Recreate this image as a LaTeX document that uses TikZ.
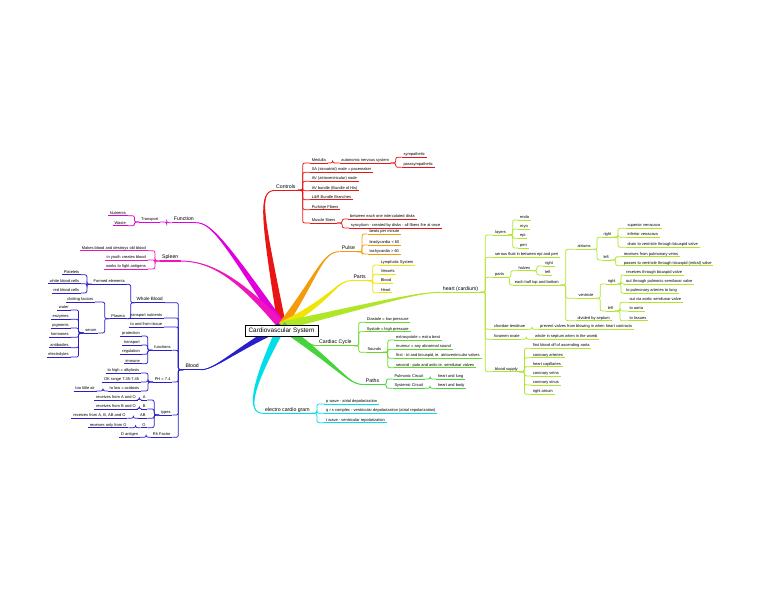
\documentclass[tikz,border=0pt]{standalone}
\usepackage{fontspec}
\setmainfont{Liberation Sans}
\usetikzlibrary{calc}
\definecolor{cR}{RGB}{235,20,20}
\definecolor{cF}{RGB}{225,0,220}
\definecolor{cS}{RGB}{240,20,190}
\definecolor{cB}{RGB}{40,30,205}
\definecolor{cO}{RGB}{245,155,10}
\definecolor{cY}{RGB}{240,228,0}
\definecolor{cH}{RGB}{175,230,40}
\definecolor{cG}{RGB}{100,218,40}
\definecolor{cP}{RGB}{70,212,60}
\definecolor{cC}{RGB}{0,222,232}
\tikzset{
  sm/.style={font=\fontsize{4}{4.6}\selectfont, inner xsep=1.6pt, inner ysep=0.6pt, text height=2.9pt, text depth=0.85pt},
  lg/.style={font=\fontsize{5.2}{6}\selectfont, inner xsep=2pt, inner ysep=0.8pt, text height=3.8pt, text depth=1.1pt},
  ul/.style={append after command={(\tikzlastnode.south west) edge[draw=#1, line width=0.75pt] (\tikzlastnode.south east)}},
  ulx/.style={append after command={(\tikzlastnode.south west) edge[draw=#1, line width=1.3pt] (\tikzlastnode.south east)}},
  rs/.style={sm, ul=#1, anchor=south west},
  ls/.style={sm, ul=#1, anchor=south east},
  rl/.style={lg, ulx=#1, anchor=south west},
  ll/.style={lg, ulx=#1, anchor=south east},
  cn/.style={line width=0.75pt, rounded corners=2pt,
    to path={let \p1=(\tikztostart), \p2=(\tikztotarget),
      \n1={\x1+min(0.5*abs(\x2-\x1),5pt)*sign(\x2-\x1)} in
      -- (\n1,\y1) |- (\tikztotarget)}},
}
\newcommand\mmspoke[6]{%
  \fill[#1] ($(O)+({4.2*#5},{4.2*#6})$) .. controls ($#2+({1.5*#5},{1.5*#6})$) and ($#3+({0.4*#5},{0.4*#6})$) .. #4
     .. controls ($#3-({0.4*#5},{0.4*#6})$) and ($#2-({1.5*#5},{1.5*#6})$) .. ($(O)-({4.2*#5},{4.2*#6})$) -- cycle;
  \draw[#1, line width=0.9pt] (O) .. controls #2 and #3 .. #4;
}
\begin{document}
\begin{tikzpicture}[x=1pt,y=-1pt]
\useasboundingbox[fill=white] (0,0) rectangle (768,594);

% ---------- Controls (red)
\node[rl=cR] (ctrl) at (274,190.3) {Controls};
\node[rs=cR] (med) at (310,163) {Medulla};
\node[rs=cR] (ans) at (339.5,163) {autonomic nervous system};
\node[rs=cR] (sym) at (401.7,157.3) {sympathetic};
\node[rs=cR] (para) at (401.7,167.3) {parasympathetic};
\node[rs=cR] (sa) at (310,172.3) {SA (sinoatrial) node = pacemaker};
\node[rs=cR] (av) at (310,181.3) {AV (atrioventricular) node};
\node[rs=cR] (avb) at (310,190.7) {AV bundle (Bundle of His)};
\node[rs=cR] (lr) at (310,199.7) {L\&R Bundle Branches};
\node[rs=cR] (purk) at (310,209.7) {Purkinje Fibers};
\node[rs=cR] (musc) at (310,223) {Muscle fibers};
\node[rs=cR] (betw) at (348.4,219) {between each one intercalated disks};
\node[rs=cR] (sync) at (349,228) {syncytium - created by disks - all fibers fire at once};

% ---------- Function (magenta)
\node[ll=cF] (func) at (196,222.7) {Function};
\node[ls=cF] (trans) at (160,222) {Transport};
\node[ls=cF] (nutr) at (127.6,215.7) {Nutrients};
\node[ls=cF] (waste) at (127.6,225.7) {Waste};

% ---------- Spleen
\node[ll=cS] (spl) at (180.5,261) {Spleen};
\node[ls=cS] (makes) at (147.6,250.7) {Makes blood and destroys old blood};
\node[ls=cS] (youth) at (147.6,260) {in youth creates blood};
\node[ls=cS] (works) at (147.6,269) {works to fight antigens};

% ---------- Blood (blue)
\node[ll=cB] (blood) at (201,369.7) {Blood};
\node[ls=cB, font=\fontsize{4.6}{5.2}\selectfont, text height=3.4pt, text depth=1pt] (wb) at (164.5,302.7) {Whole Blood};
\node[ls=cB] (tn) at (164,318) {transport nutrients};
\node[ls=cB] (tft) at (164,327) {to and from tissue};
\node[ls=cB] (fun) at (172.3,350.3) {functions};
\node[ls=cB] (ph) at (172.3,382) {PH = 7.4};
\node[ls=cB] (types) at (172.3,415) {types};
\node[ls=cB] (rh) at (172.3,437.3) {Rh Factor};
\node[ls=cB] (fe) at (126.6,284.3) {Formed elements};
\node[ls=cB] (plt) at (81,274.7) {Platelets};
\node[ls=cB] (wbc) at (81,283.7) {white blood cells};
\node[ls=cB] (rbc) at (81,293) {red blood cells};
\node[ls=cB] (plasma) at (126.6,318.7) {Plasma};
\node[ls=cB] (clot) at (95,302) {clotting factors};
\node[ls=cB] (serum) at (98.3,333) {serum};
\node[ls=cB] (water) at (70.5,310) {water};
\node[ls=cB] (enz) at (70.5,319.3) {enzymes};
\node[ls=cB] (pig) at (70.5,328) {pigments};
\node[ls=cB] (horm) at (70.5,337.3) {hormones};
\node[ls=cB] (anti) at (70.5,347.7) {antibodies};
\node[ls=cB] (elec) at (70.5,357) {electrolytes};
\node[ls=cB] (prot) at (141.6,336) {protection};
\node[ls=cB] (ftr) at (141.6,345) {transport};
\node[ls=cB] (reg) at (141.6,354.3) {regulation};
\node[ls=cB] (imm) at (141.6,363.7) {immune};
\node[ls=cB] (hi) at (141,373) {to high = alkylosis};
\node[ls=cB] (ok) at (141,382) {OK range 7.35-7.45};
\node[ls=cB] (lo) at (141,391) {to low = acidosis};
\node[ls=cB] (air) at (96.6,391) {too little air};
\node[ls=cB] (tA) at (147.3,400) {A};
\node[ls=cB] (tB) at (147.3,409) {B};
\node[ls=cB] (tAB) at (147.3,418.3) {AB};
\node[ls=cB] (tO) at (147.3,427.7) {O};
\node[ls=cB] (rA) at (137.6,400) {receives from A and O};
\node[ls=cB] (rB) at (137.6,409) {receives from B and O};
\node[ls=cB] (rAB) at (127.3,418.3) {receives from A, B, AB and O};
\node[ls=cB] (rO) at (128.3,427.7) {receives only from O};
\node[ls=cB] (dag) at (140,437.3) {D antigen};

% ---------- Pulse (orange)
\node[rl=cO] (pulse) at (339.7,251.7) {Pulse};
\node[rs=cO] (bpm) at (367.7,234) {beats per minute};
\node[rs=cO] (brady) at (367.7,245) {bradycardia < 60};
\node[rs=cO] (tachy) at (367.7,254) {tachycardia > 60};

% ---------- Parts (yellow)
\node[rl=cY] (parts) at (351.3,280.7) {Parts};
\node[rs=cY] (lymph) at (379,265) {Lymphatic System};
\node[rs=cY] (vess) at (379,274.3) {Vessels};
\node[rs=cY] (pblood) at (379,283.3) {Blood};
\node[rs=cY] (pheart) at (379,292.7) {Heart};

% ---------- heart (yellow-green)
\node[rl=cH] (heart) at (440.7,292.3) {heart (cardium)};
\node[rs=cH] (layers) at (493.4,235) {layers};
\node[rs=cH] (endo) at (518.4,220) {endo};
\node[rs=cH] (myo) at (518.4,229) {myo};
\node[rs=cH] (epi) at (518.4,238.3) {epi};
\node[rs=cH] (peri) at (518.4,248) {peri};
\node[rs=cH] (serous) at (493.4,257.3) {serous fluid in between epi and peri};
\node[rs=cH] (hparts) at (493.4,277.3) {parts};
\node[rs=cH] (halves) at (516.7,270.7) {halves};
\node[rs=cH] (hright) at (543.4,266) {right};
\node[rs=cH] (hleft) at (543.4,275) {left};
\node[rs=cH] (each) at (513,285) {each half top and bottom};
\node[rs=cH] (atr) at (575.7,249.3) {atriums};
\node[rs=cH] (aright) at (601.7,237.3) {right};
\node[rs=cH] (svc) at (625.7,228.3) {superior venacava};
\node[rs=cH] (ivc) at (625.7,237.3) {inferior venacava};
\node[rs=cH] (drain) at (625.7,247.3) {drain to ventricle through bicuspid valve};
\node[rs=cH] (aleft) at (601.7,260) {left};
\node[rs=cH] (rpv) at (622,256.7) {receives from pulmonary veins};
\node[rs=cH] (pass) at (622,265.7) {passes to ventricle through tricuspid (mitral) valve};
\node[rs=cH] (vent) at (576.7,298.3) {ventricle};
\node[rs=cH] (vright) at (606,284) {right};
\node[rs=cH] (rtb) at (624.4,275) {receives through bicuspid valve};
\node[rs=cH] (otp) at (624.4,284) {out through pulmonic semilunar valve};
\node[rs=cH] (tpa) at (624.4,293.3) {to pulmonary arteries to lung};
\node[rs=cH] (vleft) at (606,311) {left};
\node[rs=cH] (ova) at (627.7,302.3) {out via aortic semilunar valve};
\node[rs=cH] (toa) at (627.7,311) {to aorta};
\node[rs=cH] (tot) at (627.7,320.7) {to tissues};
\node[rs=cH] (div) at (575.7,320.7) {divided by septum};
\node[rs=cH] (chord) at (492.4,329.3) {chordae tendinae};
\node[rs=cH] (prev) at (538.4,329.3) {prevent valves from blowing in when heart contracts};
\node[rs=cH] (foram) at (492.4,339.3) {foramen ovale};
\node[rs=cH] (whole) at (533.4,339.3) {whole in septum when in the womb};
\node[rs=cH] (bs) at (493.4,371.7) {blood supply};
\node[rs=cH] (first) at (531,348.3) {first blood off of ascending aorta};
\node[rs=cH] (ca) at (531,357.7) {coronary arteries};
\node[rs=cH] (hc) at (531,366.7) {heart capillaries};
\node[rs=cH] (cv) at (531,376) {coronary veins};
\node[rs=cH] (cs) at (531,385) {coronary sinus};
\node[rs=cH] (ra) at (531,394.3) {right atrium};

% ---------- Cardiac Cycle (green)
\node[rl=cG] (cc) at (317,345.7) {Cardiac Cycle};
\node[rs=cG] (dia) at (365,322.3) {Diastole = low pressure};
\node[rs=cG] (sys) at (365,331.7) {Systole = high pressure};
\node[rs=cG] (snd) at (365.7,352.3) {Sounds};
\node[rs=cG] (extra) at (394.4,340) {extrasystole = extra beat};
\node[rs=cG] (murm) at (394.4,349.3) {murmur = any abnormal sound};
\node[rs=cG] (fst) at (394.4,358.3) {first - tri and bicuspid, ie. atrioventricular valves};
\node[rs=cG] (sec) at (394.4,367.7) {second - pulo and aotic ie. semilunar valves};

% ---------- Paths (green)
\node[rl=cP] (paths) at (363.7,384.5) {Paths};
\node[rs=cP] (pc) at (392.7,379) {Pulmonic Circuit};
\node[rs=cP] (hl) at (436,379) {heart and lung};
\node[rs=cP] (sc) at (392.7,388.3) {Systemic Circuit};
\node[rs=cP] (hb) at (436,388.3) {heart and body};

% ---------- electro cardio gram (cyan)
\node[rl=cC] (ecg) at (263,413.3) {electro cardio gram};
\node[rs=cC] (pw) at (324.4,404) {p wave - atrial depolarization};
\node[rs=cC] (qrs) at (324.4,413.3) {q r s complex - ventricular depolarization (atrial repolarization)};
\node[rs=cC] (tw) at (324.4,422.7) {t wave - ventricular repolarization};

% ---------- connectors
\foreach \k in {med,sa,av,avb,lr,purk,musc} \draw[cR,cn] (ctrl.south east) to (\k.south west);
\draw[cR,cn] (med.south east) to (ans.south west);
\foreach \k in {sym,para} \draw[cR,cn] (ans.south east) to (\k.south west);
\foreach \k in {betw,sync} \draw[cR,cn] (musc.south east) to (\k.south west);

\draw[cF,cn] (func.south west) to (trans.south east);
\foreach \k in {nutr,waste} \draw[cF,cn] (trans.south west) to (\k.south east);
\foreach \k in {makes,youth,works} \draw[cS,cn] (spl.south west) to (\k.south east);

\foreach \k in {wb,tn,tft,fun,ph,types,rh} \draw[cB,cn] (blood.south west) to (\k.south east);
\foreach \k in {fe,plasma} \draw[cB,cn] (wb.south west) to (\k.south east);
\foreach \k in {plt,wbc,rbc} \draw[cB,cn] (fe.south west) to (\k.south east);
\foreach \k in {clot,serum} \draw[cB,cn] (plasma.south west) to (\k.south east);
\foreach \k in {water,enz,pig,horm,anti,elec} \draw[cB,cn] (serum.south west) to (\k.south east);
\foreach \k in {prot,ftr,reg,imm} \draw[cB,cn] (fun.south west) to (\k.south east);
\foreach \k in {hi,ok,lo} \draw[cB,cn] (ph.south west) to (\k.south east);
\draw[cB,cn] (lo.south west) to (air.south east);
\foreach \k in {tA,tB,tAB,tO} \draw[cB,cn] (types.south west) to (\k.south east);
\draw[cB,cn] (tA.south west) to (rA.south east);
\draw[cB,cn] (tB.south west) to (rB.south east);
\draw[cB,cn] (tAB.south west) to (rAB.south east);
\draw[cB,cn] (tO.south west) to (rO.south east);
\draw[cB,cn] (rh.south west) to (dag.south east);

\foreach \k in {bpm,brady,tachy} \draw[cO,cn] (pulse.south east) to (\k.south west);
\foreach \k in {lymph,vess,pblood,pheart} \draw[cY,cn] (parts.south east) to (\k.south west);

\foreach \k in {layers,serous,hparts,chord,foram,bs} \draw[cH,cn] (heart.south east) to (\k.south west);
\foreach \k in {endo,myo,epi,peri} \draw[cH,cn] (layers.south east) to (\k.south west);
\foreach \k in {halves,each} \draw[cH,cn] (hparts.south east) to (\k.south west);
\foreach \k in {hright,hleft} \draw[cH,cn] (halves.south east) to (\k.south west);
\foreach \k in {atr,vent,div} \draw[cH,cn] (each.south east) to (\k.south west);
\foreach \k in {aright,aleft} \draw[cH,cn] (atr.south east) to (\k.south west);
\foreach \k in {svc,ivc,drain} \draw[cH,cn] (aright.south east) to (\k.south west);
\foreach \k in {rpv,pass} \draw[cH,cn] (aleft.south east) to (\k.south west);
\foreach \k in {vright,vleft} \draw[cH,cn] (vent.south east) to (\k.south west);
\foreach \k in {rtb,otp,tpa} \draw[cH,cn] (vright.south east) to (\k.south west);
\foreach \k in {ova,toa,tot} \draw[cH,cn] (vleft.south east) to (\k.south west);
\draw[cH,cn] (chord.south east) to (prev.south west);
\draw[cH,cn] (foram.south east) to (whole.south west);
\foreach \k in {first,ca,hc,cv,cs,ra} \draw[cH,cn] (bs.south east) to (\k.south west);

\foreach \k in {dia,sys,snd} \draw[cG,cn] (cc.south east) to (\k.south west);
\foreach \k in {extra,murm,fst,sec} \draw[cG,cn] (snd.south east) to (\k.south west);
\foreach \k in {pc,sc} \draw[cP,cn] (paths.south east) to (\k.south west);
\draw[cP,cn] (pc.south east) to (hl.south west);
\draw[cP,cn] (sc.south east) to (hb.south west);
\foreach \k in {pw,qrs,tw} \draw[cC,cn] (ecg.south east) to (\k.south west);

% ---------- spokes from the centre
\coordinate (O) at (282,326);
\mmspoke{cR}{(261,210)}{(259,193)}{(ctrl.south west)}{0.98}{-0.18}
\mmspoke{cF}{(226,244)}{(212,222.7)}{(func.south east)}{0.83}{-0.56}
\mmspoke{cS}{(240,280)}{(212,261)}{(spl.south east)}{0.74}{-0.67}
\mmspoke{cB}{(235,350)}{(215,369.7)}{(blood.south east)}{0.45}{0.89}
\mmspoke{cC}{(252,385)}{(246,413.3)}{(ecg.south west)}{0.94}{0.35}
\mmspoke{cO}{(318,275)}{(322,251.7)}{(pulse.south west)}{0.82}{0.58}
\mmspoke{cY}{(335,297)}{(336,280.7)}{(parts.south west)}{0.48}{0.88}
\mmspoke{cH}{(390,300)}{(420,292.3)}{(heart.south west)}{0.23}{0.97}
\mmspoke{cG}{(300,336)}{(308,345.7)}{(cc.south west)}{0.49}{-0.87}
\mmspoke{cP}{(345,372)}{(348,384.5)}{(paths.south west)}{0.59}{-0.81}

% ---------- centre
\node[draw=black, line width=0.9pt, fill=white, minimum width=73pt, minimum height=11pt, inner sep=0pt,
      font=\fontsize{6.4}{7}\selectfont] (cvs) at (281.5,330.5) {Cardiovascular System};
\end{tikzpicture}
\end{document}
